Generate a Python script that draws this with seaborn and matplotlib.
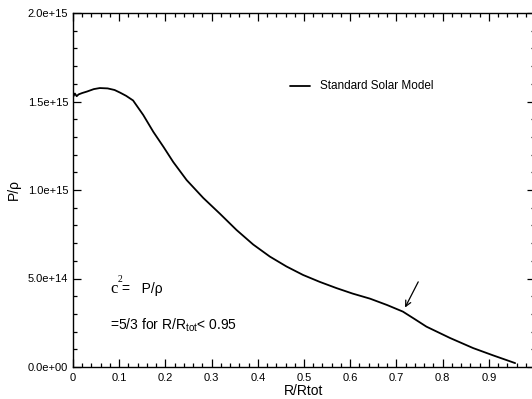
import matplotlib
matplotlib.use("Agg")
import matplotlib.pyplot as plt
import matplotlib.ticker as mticker
import pandas as pd
import seaborn as sns

# values
r = [0.0, 0.004, 0.008, 0.012, 0.02, 0.03, 0.045, 0.058, 0.075, 0.09, 0.102,
     0.115, 0.130, 0.152, 0.174, 0.196, 0.217, 0.246, 0.282, 0.318, 0.354,
     0.390, 0.426, 0.462, 0.498, 0.534, 0.570, 0.605, 0.643, 0.680, 0.714,
     0.740, 0.765, 0.816, 0.866, 0.909, 0.957]
p_rho = [1.525e15, 1.545e15, 1.530e15, 1.540e15, 1.548e15, 1.556e15, 1.570e15,
         1.576e15, 1.574e15, 1.565e15, 1.550e15, 1.532e15, 1.506e15, 1.424e15,
         1.328e15, 1.243e15, 1.158e15, 1.056e15, 0.955e15, 0.866e15, 0.774e15,
         0.692e15, 0.624e15, 0.568e15, 0.520e15, 0.481e15, 0.446e15, 0.415e15,
         0.386e15, 0.350e15, 0.313e15, 0.270e15, 0.228e15, 0.164e15, 0.107e15,
         0.066e15, 0.022e15]
x_ticks = [0, 0.1, 0.2, 0.3, 0.4, 0.5, 0.6, 0.7, 0.8, 0.9]
x_labels = ["0", "0.1", "0.2", "0.3", "0.4", "0.5", "0.6", "0.7", "0.8", "0.9"]
y_ticks = [0, 0.5e15, 1.0e15, 1.5e15, 2.0e15]

df = pd.DataFrame({"R/Rtot": r, "P/rho": p_rho})

sns.set_style("ticks")
plt.rcParams["font.family"] = ["Liberation Sans", "DejaVu Sans"]
for key in ["text.color", "axes.labelcolor", "xtick.color", "ytick.color",
            "axes.edgecolor"]:
    plt.rcParams[key] = "black"

fig = plt.figure(figsize=(5.32, 3.99), dpi=100)
ax = fig.add_axes([73 / 532, 32 / 399, 462 / 532, 354 / 399])

sns.lineplot(data=df, x="R/Rtot", y="P/rho", color="black", linewidth=1.3,
             ax=ax, sort=False)

ax.set_xlim(0, 1.0)
ax.set_ylim(0, 2.0e15)
ax.set_xticks(x_ticks)
ax.set_xticklabels(x_labels)
ax.set_yticks(y_ticks)
ax.yaxis.set_major_formatter(mticker.FuncFormatter(lambda v, pos: "{:.1e}".format(v)))
ax.xaxis.set_minor_locator(mticker.MultipleLocator(0.02))
ax.yaxis.set_minor_locator(mticker.MultipleLocator(1e14))
ax.tick_params(which="both", direction="in", top=True, right=True, labelsize=8,
               width=0.9)
ax.tick_params(axis="x", pad=4)
ax.tick_params(which="major", length=6)
ax.tick_params(which="minor", length=3)
for s in ax.spines.values():
    s.set_linewidth(1.0)
    s.set_visible(True)

ax.set_xlabel("R/Rtot", fontsize=10, labelpad=1)
ax.set_ylabel("P/\u03c1", fontsize=10, labelpad=5)

# legend
ax.plot([0.470, 0.513], [1.59e15, 1.59e15], color="black", linewidth=1.3)
ax.text(0.535, 1.59e15, "Standard Solar Model", fontsize=8.5, va="center")

# annotations
ax.text(0.08, 0.418e15, "c", family="Liberation Serif", fontsize=12, va="baseline")
ax.text(0.097, 0.48e15, "2", family="Liberation Serif", fontsize=7, va="baseline")
ax.text(0.107, 0.418e15, "=   P/\u03c1", fontsize=10, va="baseline")
ax.text(0.08, 0.209e15, "=5/3 for R/R$_{\\mathregular{tot}}$< 0.95", fontsize=10,
        va="baseline")

ax.annotate("", xy=(0.716, 0.322e15), xytext=(0.750, 0.495e15),
            arrowprops=dict(arrowstyle="->", color="black", lw=0.9))

fig.savefig("out.png", dpi=100)
